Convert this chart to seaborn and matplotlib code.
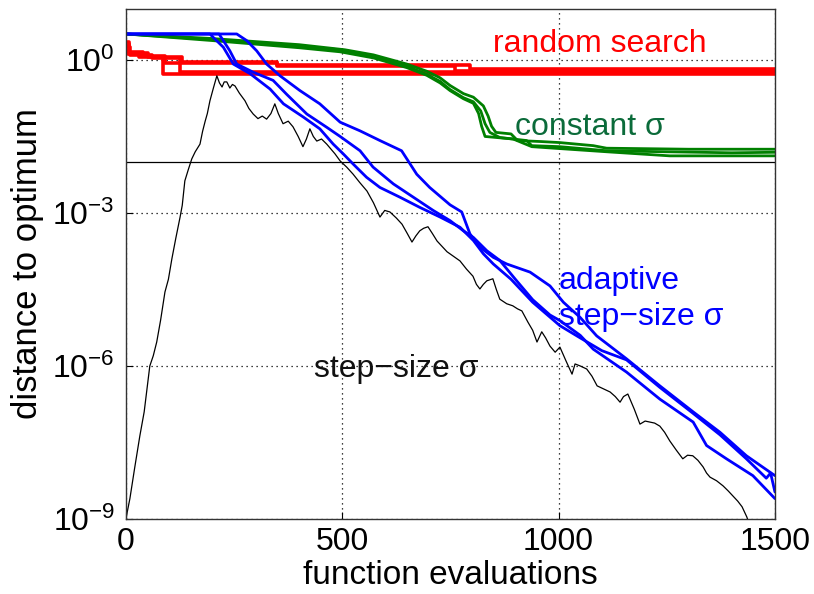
import numpy as np
import pandas as pd
import matplotlib
matplotlib.use("Agg")
import matplotlib.pyplot as plt
import seaborn as sns
from matplotlib.ticker import FixedLocator, LogFormatterMathtext, NullLocator

# ---------------- data (x = function evaluations, y = log10 distance) ----------------
black_x = [0, 2, 9, 20, 32, 42, 55, 63, 71, 80, 90, 98, 106, 115, 125, 130, 136, 144, 152, 160,
           171, 177, 183, 188, 194, 202, 210, 216, 222, 227, 233, 240, 246, 252, 262, 275, 284,
           294, 305, 315, 325, 335, 344, 352, 363, 375, 386, 398, 409, 417, 425, 433, 441, 452,
           464, 474, 483, 495, 510, 525, 540, 557, 572, 587, 598, 610, 625, 638, 650, 661, 670,
           679, 688, 698, 708, 719, 730, 742, 757, 772, 787, 802, 810, 818, 826, 834, 848, 856,
           864, 880, 894, 905, 915, 929, 940, 950, 961, 970, 980, 992, 1003, 1017, 1031, 1038,
           1050, 1065, 1077, 1089, 1104, 1119, 1131, 1142, 1150, 1160, 1175, 1188, 1200, 1211,
           1222, 1234, 1245, 1257, 1272, 1287, 1298, 1310, 1322, 1334, 1342, 1350, 1365, 1380,
           1392, 1403, 1414, 1424, 1435, 1445, 1460]
black_log = [-9.0, -8.9, -8.6, -8.0, -7.37, -6.9, -6.0, -5.8, -5.53, -5.1, -4.55, -4.3, -3.9, -3.5,
             -3.08, -2.85, -2.37, -2.15, -1.94, -1.8, -1.65, -1.4, -1.2, -1.05, -0.8, -0.55, -0.31,
             -0.45, -0.53, -0.43, -0.43, -0.55, -0.48, -0.51, -0.65, -0.8, -0.95, -1.06, -1.15,
             -1.1, -1.16, -1.05, -0.86, -1.05, -1.25, -1.2, -1.31, -1.5, -1.7, -1.55, -1.35, -1.5,
             -1.59, -1.55, -1.65, -1.75, -1.84, -1.98, -2.1, -2.24, -2.4, -2.57, -2.8, -3.08,
             -2.95, -2.98, -3.1, -3.22, -3.4, -3.57, -3.45, -3.35, -3.3, -3.27, -3.4, -3.55, -3.65,
             -3.76, -3.85, -3.94, -4.1, -4.24, -4.4, -4.49, -4.4, -4.33, -4.29, -4.5, -4.69, -4.78,
             -4.82, -4.88, -4.92, -5.14, -5.3, -5.53, -5.33, -5.45, -5.61, -5.73, -5.63, -5.9,
             -6.16, -5.96, -6.0, -6.06, -6.2, -6.39, -6.45, -6.51, -6.6, -6.71, -6.6, -6.55,
             -6.85, -7.14, -7.08, -7.1, -7.12, -7.18, -7.3, -7.47, -7.65, -7.82, -7.75, -7.76,
             -7.85, -7.98, -8.1, -8.18, -8.25, -8.35, -8.45, -8.55, -8.65, -8.76, -8.96, -9.2, -9.4]

blueA_x = [0, 194, 202, 225, 248, 287, 333, 364, 410, 448, 479, 502, 525, 556, 587, 633, 679,
           726, 772, 803, 826, 849, 890, 940, 1003, 1050, 1100, 1157, 1234, 1311, 1373, 1434,
           1480, 1490, 1500]
blueA_log = [0.51, 0.51, 0.44, 0.25, -0.08, -0.27, -0.57, -0.86, -1.12, -1.35, -1.65, -1.84,
             -2.04, -2.3, -2.5, -2.69, -2.89, -3.08, -3.28, -3.54, -3.8, -4.0, -4.3, -4.75, -5.21,
             -5.45, -5.7, -5.88, -6.42, -6.93, -7.35, -7.82, -8.2, -8.1, -8.47]

blueB_x = [0, 215, 240, 256, 294, 340, 371, 418, 464, 495, 541, 571, 618, 664, 710, 749, 780,
           803, 834, 864, 900, 940, 980, 1003, 1050, 1080, 1157, 1234, 1311, 1342, 1388, 1449, 1500]
blueB_log = [0.51, 0.51, 0.18, -0.08, -0.24, -0.4, -0.67, -1.06, -1.32, -1.5, -1.78, -2.1,
             -2.43, -2.69, -2.95, -3.15, -3.35, -3.48, -3.74, -3.93, -4.3, -4.7, -5.0, -5.11,
             -5.4, -5.67, -6.12, -6.65, -7.1, -7.56, -7.82, -8.15, -8.6]

blueC_x = [0, 256, 279, 302, 325, 356, 402, 448, 495, 541, 587, 637, 672, 702, 749, 776, 795,
           818, 849, 880, 934, 980, 1011, 1050, 1088, 1157, 1234, 1311, 1373, 1434, 1500]
blueC_log = [0.51, 0.51, 0.38, 0.18, -0.08, -0.31, -0.6, -0.86, -1.22, -1.39, -1.58, -1.78,
             -2.24, -2.5, -2.84, -2.98, -3.41, -3.67, -3.87, -4.0, -4.16, -4.43, -4.75, -5.05,
             -5.41, -5.86, -6.39, -6.9, -7.3, -7.76, -8.15]

green1_x = [0, 200, 400, 506, 572, 649, 695, 726, 749, 780, 803, 826, 837, 845, 855, 890, 905,
            960, 1003, 1080, 1111, 1300, 1500]
green1_log = [0.51, 0.42, 0.3, 0.2, 0.1, -0.08, -0.22, -0.35, -0.5, -0.66, -0.73, -0.9, -1.1,
              -1.3, -1.42, -1.45, -1.58, -1.6, -1.62, -1.68, -1.73, -1.75, -1.75]
green2_x = [0, 200, 400, 495, 572, 649, 695, 726, 749, 780, 803, 820, 830, 841, 864, 926, 938,
            1003, 1111, 1249, 1400, 1500]
green2_log = [0.51, 0.4, 0.27, 0.2, 0.07, -0.12, -0.28, -0.42, -0.58, -0.74, -0.82, -1.0, -1.25,
              -1.42, -1.52, -1.58, -1.68, -1.7, -1.78, -1.8, -1.82, -1.81]
green3_x = [0, 200, 400, 495, 572, 649, 695, 726, 749, 780, 803, 815, 822, 830, 895, 938, 1111,
            1257, 1500]
green3_log = [0.51, 0.38, 0.24, 0.16, 0.04, -0.15, -0.3, -0.45, -0.6, -0.76, -0.85, -1.05, -1.3,
              -1.5, -1.55, -1.7, -1.8, -1.88, -1.88]

red1_x = [0, 8, 40, 90, 350, 760, 1500]
red1_log = [0.35, 0.15, 0.08, -0.05, -0.11, -0.22, -0.22]
red2_x = [0, 5, 30, 86, 1500]
red2_log = [0.3, 0.12, 0.05, -0.27, -0.27]
red3_x = [0, 10, 60, 125, 1500]
red3_log = [0.25, 0.1, 0.03, -0.24, -0.24]
red4_x = [0, 6, 50, 130, 350, 795, 1500]
red4_log = [0.32, 0.14, 0.06, -0.03, -0.1, -0.18, -0.18]

x_ticks = [0, 500, 1000, 1500]
y_ticks = [1e-9, 1e-6, 1e-3, 1e0]
reference_level = 1e-2

# ---------------- styling ----------------
sns.set_style("ticks")
plt.rcParams["font.family"] = ["Liberation Sans", "DejaVu Sans"]
plt.rcParams["mathtext.fontset"] = "custom"
plt.rcParams["mathtext.rm"] = "Liberation Sans"
plt.rcParams["mathtext.it"] = "Liberation Sans:italic"
plt.rcParams["mathtext.bf"] = "Liberation Sans:bold"

fig = plt.figure(figsize=(8.14, 5.94), dpi=100)
ax = fig.add_axes([0.1548, 0.1263, 0.7972, 0.8586])


def frame(xs, logs):
    return pd.DataFrame({"x": xs, "y": 10.0 ** np.asarray(logs, dtype=float)})


for xs, ls in [(red1_x, red1_log), (red2_x, red2_log), (red3_x, red3_log), (red4_x, red4_log)]:
    sns.lineplot(data=frame(xs, ls), x="x", y="y", ax=ax, color="#ff0000", lw=2.6,
                 drawstyle="steps-post", estimator=None)

for xs, ls in [(green1_x, green1_log), (green2_x, green2_log), (green3_x, green3_log)]:
    sns.lineplot(data=frame(xs, ls), x="x", y="y", ax=ax, color="#008000", lw=2.0,
                 estimator=None)

for xs, ls in [(blueA_x, blueA_log), (blueB_x, blueB_log), (blueC_x, blueC_log)]:
    sns.lineplot(data=frame(xs, ls), x="x", y="y", ax=ax, color="#0000ff", lw=2.0,
                 estimator=None)

sns.lineplot(data=frame(black_x, black_log), x="x", y="y", ax=ax, color="black", lw=0.9,
             estimator=None)

ax.axhline(reference_level, color="black", lw=0.9, zorder=1)

ax.set_yscale("log")
ax.set_xlim(0, 1500)
ax.set_ylim(1e-9, 1e1)
ax.xaxis.set_major_locator(FixedLocator(x_ticks))
ax.yaxis.set_major_locator(FixedLocator(y_ticks))
ax.yaxis.set_minor_locator(NullLocator())
ax.yaxis.set_major_formatter(LogFormatterMathtext())
ax.grid(True, which="major", color="black", linestyle=(0, (1, 3)), lw=0.9)
ax.tick_params(direction="in", length=5, width=0.8, labelsize=23, pad=6,
               colors="black", labelcolor="black")
ax.tick_params(axis="y", pad=8)
for s in ax.spines.values():
    s.set_visible(True)
    s.set_color("#333333")
    s.set_linewidth(1.0)

ax.set_xlabel("function evaluations", fontsize=24, labelpad=2, color="black")
ax.set_ylabel("distance to optimum", fontsize=25, labelpad=6, color="black")

ax.text(1095, 10 ** 0.31, "random search", color="#ff0000", fontsize=23, ha="center", va="center")
ax.text(1072, 10 ** -1.31, "constant σ", color="#0b6b3a", fontsize=23, ha="center", va="center")
ax.text(1000, 10 ** -4.33, "adaptive", color="#0000ff", fontsize=23, ha="left", va="center")
ax.text(1000, 10 ** -5.04, "step\u2212size σ", color="#0000ff", fontsize=23, ha="left", va="center")
ax.text(624, 10 ** -6.06, "step\u2212size σ", color="#111111", fontsize=23, ha="center", va="center")

fig.savefig("out.png", dpi=100)
